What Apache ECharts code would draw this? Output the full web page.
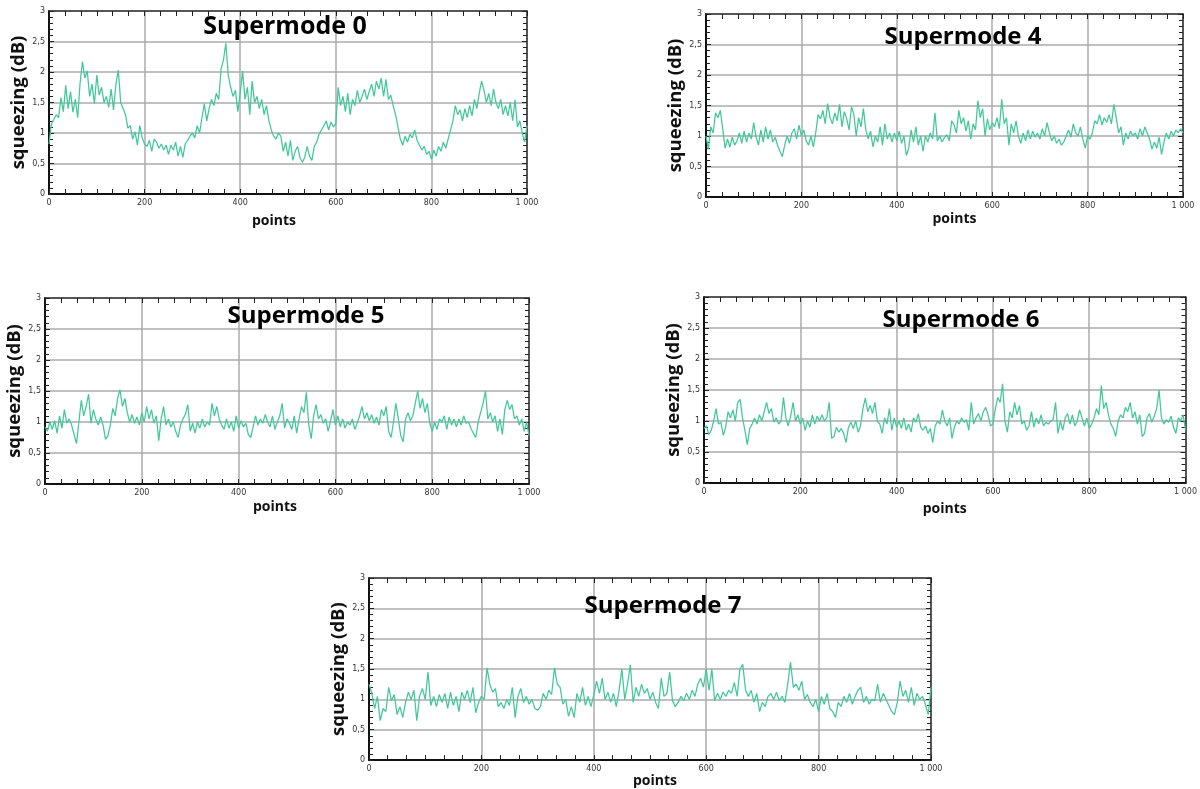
<!DOCTYPE html>
<html><head><meta charset="utf-8">
<script src="https://cdn.jsdelivr.net/npm/echarts@6/dist/echarts.min.js"></script>
<style>html,body{margin:0;padding:0;background:#fff}#c{width:1200px;height:789px}</style>
</head><body><div id="c"></div>
<script>
// ---------- data ----------
const titles = ['Supermode 0', 'Supermode 4', 'Supermode 5', 'Supermode 6', 'Supermode 7'];
const xLabel = 'points';
const yLabel = 'squeezing (dB)';
const step = 5; // sample spacing of the points below (x = 0, 5, ..., 1000)

const sm0 = [
0.82,1.15,1.22,1.3,1.25,1.58,1.35,1.78,1.4,1.68,1.34,1.55,1.25,1.82,2.17,1.9,2.02,1.6,1.8,1.48,
1.95,1.62,1.75,1.5,1.6,1.42,1.72,1.38,1.8,2.03,1.5,1.4,1.3,1.08,1.12,0.9,1.02,0.8,1.12,0.92,
0.82,0.78,0.88,0.7,0.9,0.85,0.75,0.82,0.72,0.8,0.65,0.8,0.72,0.85,0.62,0.78,0.6,0.82,0.88,0.95,
1.0,0.92,1.12,1.0,1.25,1.48,1.2,1.4,1.55,1.45,1.65,1.55,2.05,2.2,2.47,1.95,1.75,1.6,1.7,1.35,
1.65,2.02,1.55,1.75,1.3,1.85,1.5,1.6,1.4,1.55,1.3,1.45,1.2,1.05,0.95,0.9,1.0,0.95,0.7,0.85,
0.62,0.88,0.55,0.7,0.78,0.6,0.52,0.6,0.78,0.62,0.55,0.78,0.85,0.98,1.05,1.12,1.2,1.05,1.18,1.1,
1.15,1.75,1.45,1.6,1.35,1.65,1.3,1.55,1.45,1.7,1.5,1.6,1.72,1.55,1.68,1.8,1.6,1.85,1.72,1.9,
1.6,1.88,1.55,1.62,1.45,1.3,1.1,0.9,0.8,0.95,0.85,0.98,0.92,1.05,0.88,0.8,0.72,0.78,0.65,0.7,
0.57,0.72,0.62,0.78,0.7,0.85,0.75,0.9,1.05,1.2,1.45,1.3,1.38,1.2,1.4,1.25,1.45,1.28,1.55,1.4,
1.65,1.85,1.7,1.5,1.65,1.45,1.72,1.5,1.4,1.55,1.3,1.45,1.28,1.5,1.2,1.55,1.1,1.2,1.0,0.85,
1.12];

const sm4 = [
1.0,0.78,1.15,1.05,1.38,1.3,1.42,1.12,0.8,0.95,0.82,0.98,0.85,0.92,1.05,0.88,1.08,0.9,1.05,0.95,
1.22,0.98,0.85,1.1,0.9,1.15,0.95,1.1,0.9,0.98,0.85,0.75,0.66,0.85,1.0,0.88,1.05,1.12,0.95,1.18,
1.0,1.1,0.92,0.85,1.0,0.82,1.05,1.35,1.28,1.42,1.2,1.53,1.3,1.2,1.38,1.25,1.52,1.15,1.4,1.28,
1.1,1.48,1.35,1.0,1.3,1.15,1.45,1.1,0.95,1.08,0.82,1.0,0.9,1.15,0.85,1.2,0.95,1.05,0.9,1.05,
0.92,1.08,0.88,1.0,0.68,0.8,1.1,0.9,1.15,0.85,1.0,0.75,1.0,0.9,1.05,0.95,1.38,0.92,1.0,0.9,
0.98,1.02,0.92,1.25,1.18,1.05,1.42,1.2,1.3,1.08,1.25,0.95,1.2,1.1,1.58,1.3,1.45,1.0,1.28,1.1,
1.22,1.15,1.3,1.12,1.6,1.2,1.3,0.85,1.2,1.05,1.25,1.0,0.88,1.05,0.92,1.1,0.95,1.08,0.98,1.05,
0.95,1.12,1.0,1.22,1.05,0.92,1.0,0.88,0.95,0.85,0.9,1.0,1.1,0.98,1.2,1.05,1.0,1.15,0.95,0.8,
1.0,0.95,1.05,1.25,1.2,1.35,1.18,1.3,1.22,1.35,1.2,1.52,1.3,1.05,1.15,0.85,1.05,0.95,1.08,1.0,
1.05,0.95,1.12,1.0,1.15,1.05,0.95,0.78,0.9,0.8,0.98,0.7,0.9,1.05,0.95,1.08,1.0,1.1,1.05,1.12,
1.05];

const sm5 = [
0.92,0.85,1.0,0.88,1.02,0.82,1.1,0.9,1.2,0.98,1.05,0.95,0.8,0.65,1.0,1.35,1.1,1.25,1.45,0.98,
1.2,1.05,0.95,1.08,0.95,0.72,0.78,0.95,1.22,1.1,1.38,1.52,1.25,1.38,1.15,1.0,1.12,0.98,1.08,0.95,
1.15,1.0,1.25,1.05,1.2,0.98,1.1,0.7,1.05,1.25,0.95,1.05,0.92,1.0,0.85,0.75,0.95,1.05,1.12,1.28,
0.85,0.98,0.82,1.0,0.9,1.05,0.92,1.0,0.95,1.3,1.1,1.25,1.05,0.95,0.88,1.05,0.9,1.0,0.85,1.1,
0.9,1.02,0.92,0.98,0.8,0.75,0.92,1.1,0.95,1.05,0.98,1.12,1.0,0.92,1.1,0.88,1.0,1.1,1.3,0.9,
1.05,0.98,0.88,1.1,0.82,1.05,1.25,1.15,1.48,0.95,0.73,1.1,1.28,1.05,1.12,0.98,1.05,0.85,1.02,1.2,
0.95,1.1,0.92,1.05,0.9,1.0,0.95,1.05,0.88,0.98,1.1,1.25,1.05,1.15,1.02,1.12,0.98,1.08,0.95,1.2,
1.1,1.25,0.85,0.75,1.0,1.3,1.05,0.78,0.68,1.05,1.15,1.02,1.1,1.3,1.5,1.22,1.38,1.15,1.3,0.98,
0.85,1.0,0.88,1.05,1.0,1.1,0.88,1.08,0.95,1.05,0.92,1.05,0.95,1.1,0.98,1.0,0.9,0.82,0.75,1.0,
1.15,1.3,1.5,1.05,1.15,1.0,1.1,0.85,1.05,0.8,1.2,1.35,1.2,1.28,1.05,1.1,0.95,1.05,0.85,1.0,
0.78];

const sm6 = [
0.88,0.92,0.78,0.85,1.0,1.2,0.95,0.98,0.77,0.9,1.15,1.05,1.18,1.0,1.3,1.35,1.05,0.85,0.62,0.88,
0.95,1.05,0.95,1.1,1.0,1.15,1.3,1.12,1.2,0.98,1.05,0.95,1.0,1.38,1.05,0.92,1.08,1.3,1.0,1.1,
0.95,1.05,0.85,1.0,0.9,1.1,0.95,1.08,1.0,1.1,1.0,1.05,1.3,0.72,0.75,0.9,0.82,0.88,0.8,0.65,
0.9,0.98,0.88,1.0,0.82,0.92,1.2,1.37,1.15,1.25,1.12,1.3,1.0,0.95,0.8,1.05,0.95,1.2,0.85,1.05,
0.9,1.0,0.88,1.05,0.85,0.95,0.82,1.05,0.98,1.12,0.9,0.85,0.92,0.8,0.88,0.65,0.92,1.0,0.95,1.18,
1.0,0.92,1.05,0.72,0.9,1.0,0.95,1.05,0.98,1.02,0.85,1.3,0.95,1.05,1.12,1.0,1.15,1.22,1.1,0.92,
0.95,1.2,1.38,1.3,1.6,1.0,0.82,1.15,1.05,1.3,1.1,1.25,0.95,1.0,0.85,0.92,1.15,0.9,1.05,0.95,
1.1,0.92,0.98,0.95,1.0,1.02,1.3,0.8,1.0,0.85,1.05,1.12,0.95,1.1,0.92,1.0,1.18,1.05,0.92,1.05,
0.88,0.95,1.05,1.2,1.1,1.57,1.2,1.3,1.1,0.95,0.88,0.75,1.0,1.1,1.05,1.22,1.15,1.3,1.05,1.15,
0.95,1.1,0.75,0.8,1.05,1.12,0.98,1.08,1.2,1.5,1.05,0.95,1.02,0.98,1.08,0.9,0.8,1.05,1.0,1.1,
0.85];

const sm7 = [
1.25,1.1,0.85,1.05,0.65,0.85,0.8,1.2,0.98,1.08,0.75,0.88,0.7,0.95,1.12,1.0,1.15,0.65,1.05,1.18,
1.0,1.45,0.9,1.05,0.88,1.08,0.95,1.1,0.85,1.12,0.9,1.05,0.8,1.12,1.0,1.15,0.95,1.2,0.78,0.95,
1.05,1.0,1.52,1.25,1.12,1.18,0.88,0.95,0.85,1.0,0.9,1.2,0.7,1.05,1.18,0.95,1.05,0.92,1.0,0.85,
0.82,0.88,1.1,1.0,1.15,1.08,1.52,1.25,1.2,0.92,1.0,0.72,0.88,0.7,1.1,0.95,1.2,0.9,1.05,0.88,
1.08,1.3,1.1,1.35,1.0,1.12,0.95,1.1,0.88,1.15,1.5,1.0,1.25,1.57,0.95,1.2,1.05,1.25,1.1,1.18,
1.0,1.12,0.95,0.85,1.35,1.05,1.1,1.45,0.98,0.88,0.95,1.05,0.98,1.1,1.0,1.15,1.05,1.25,1.35,1.2,
1.5,1.15,1.5,0.98,1.1,1.0,1.12,1.05,1.15,1.1,1.28,1.05,1.5,1.58,1.15,1.05,1.15,0.95,1.1,0.8,
0.95,0.88,1.05,1.1,1.0,1.12,0.98,1.05,0.95,1.25,1.62,1.2,1.25,1.15,1.3,1.0,1.08,0.95,0.88,1.0,
0.8,1.05,0.92,1.1,0.85,0.8,0.7,0.95,0.88,1.05,0.95,1.1,0.92,1.05,1.15,1.2,0.95,1.05,0.92,1.0,
0.98,1.25,0.95,1.1,1.0,0.9,0.8,0.75,0.95,1.3,1.05,1.15,0.95,1.2,0.9,1.1,1.0,1.05,0.92,0.75,
1.2];

const seriesData = [sm0, sm4, sm5, sm6, sm7];

// ---------- layout ----------
const panels = [
  {left: 49,  top: 11,  width: 478, height: 183, tx: 285, ty: 27, fs: 25, xg: 20, xdx: -14},
  {left: 706, top: 14,  width: 477, height: 183, tx: 963, ty: 37, fs: 24, xg: 15, xdx: 10},
  {left: 45,  top: 298, width: 484, height: 186, tx: 306, ty: 316, fs: 24, xg: 16, xdx: -12},
  {left: 704, top: 297, width: 485, height: 186, tx: 961, ty: 320, fs: 24, xg: 19, xdx: 0},
  {left: 369, top: 578, width: 562, height: 186, tx: 663, ty: 606, fs: 24, xg: 9, xdx: 5}
];

const LINE = '#42c898';
const GRIDC = '#ababab';
const tickLbl = {fontFamily: 'DejaVu Sans', fontSize: 8, color: '#333'};

const grid = [], xAxis = [], yAxis = [], series = [], graphic = [];
panels.forEach((p, i) => {
  grid.push({left: p.left, top: p.top, width: p.width, height: p.height, containLabel: false});
  const pad = p.xdx >= 0 ? [0, 0, 0, 2 * p.xdx] : [0, -2 * p.xdx, 0, 0];
  const xb = {
    gridIndex: i, type: 'value', min: 0, max: 1000, interval: 200, position: 'bottom',
    name: xLabel, nameLocation: 'middle', nameGap: p.xg,
    nameTextStyle: {fontFamily: 'Open Sans', fontWeight: 'bold', fontSize: 14, color: '#111', padding: pad},
    axisLine: {show: true, onZero: false, lineStyle: {color: '#111', width: 2}},
    axisTick: {show: true, inside: true, length: 5, lineStyle: {color: '#222', width: 1}},
    minorTick: {show: true, splitNumber: 6, length: 5, lineStyle: {color: '#222', width: 1}},
    axisLabel: Object.assign({margin: 5, formatter: v => v === 1000 ? '1 000' : String(v)}, tickLbl),
    splitLine: {show: true, lineStyle: {color: GRIDC, width: 1.5}}
  };
  const xt = {
    gridIndex: i, type: 'value', min: 0, max: 1000, interval: 200, position: 'top',
    axisLine: {show: true, onZero: false, lineStyle: {color: '#333', width: 1.5}},
    axisTick: {show: true, inside: true, length: 5, lineStyle: {color: '#222', width: 1}},
    minorTick: {show: true, splitNumber: 6, length: 5, lineStyle: {color: '#222', width: 1}},
    axisLabel: {show: false}, splitLine: {show: false}
  };
  const yl = {
    gridIndex: i, type: 'value', min: 0, max: 3, interval: 0.5, position: 'left',
    name: yLabel, nameLocation: 'middle', nameGap: 19,
    nameTextStyle: {fontFamily: 'Open Sans', fontWeight: 'bold', fontSize: 18.5, color: '#111'},
    axisLine: {show: true, onZero: false, lineStyle: {color: '#111', width: 2}},
    axisTick: {show: true, inside: true, length: 5, lineStyle: {color: '#222', width: 1}},
    minorTick: {show: true, splitNumber: 5, length: 4, lineStyle: {color: '#222', width: 1}},
    axisLabel: Object.assign({margin: 4, formatter: v => String(v).replace('.', ',')}, tickLbl),
    splitLine: {show: true, lineStyle: {color: GRIDC, width: 1.5}}
  };
  const yr = {
    gridIndex: i, type: 'value', min: 0, max: 3, interval: 0.5, position: 'right',
    axisLine: {show: true, onZero: false, lineStyle: {color: '#333', width: 1.5}},
    axisTick: {show: true, inside: true, length: 5, lineStyle: {color: '#222', width: 1}},
    minorTick: {show: true, splitNumber: 5, length: 4, lineStyle: {color: '#222', width: 1}},
    axisLabel: {show: false}, splitLine: {show: false}
  };
  xAxis.push(xb, xt);
  yAxis.push(yl, yr);
  series.push({
    type: 'line', xAxisIndex: 2 * i, yAxisIndex: 2 * i,
    data: seriesData[i].map((v, k) => [k * step, v]),
    showSymbol: false, symbol: 'none', smooth: false, animation: false,
    lineStyle: {color: LINE, width: 1.25}, z: 3
  });
  graphic.push({
    type: 'text', x: p.tx, y: p.ty, z: 10,
    style: {text: titles[i], fontFamily: 'Open Sans', fontWeight: 'bold', fontSize: p.fs,
            fill: '#000', align: 'center', verticalAlign: 'middle'}
  });
});

const chart = echarts.init(document.getElementById('c'), null, {renderer: 'canvas'});
chart.setOption({
  animation: false, backgroundColor: '#fff',
  grid, xAxis, yAxis, series, graphic
});
</script>
</body></html>
